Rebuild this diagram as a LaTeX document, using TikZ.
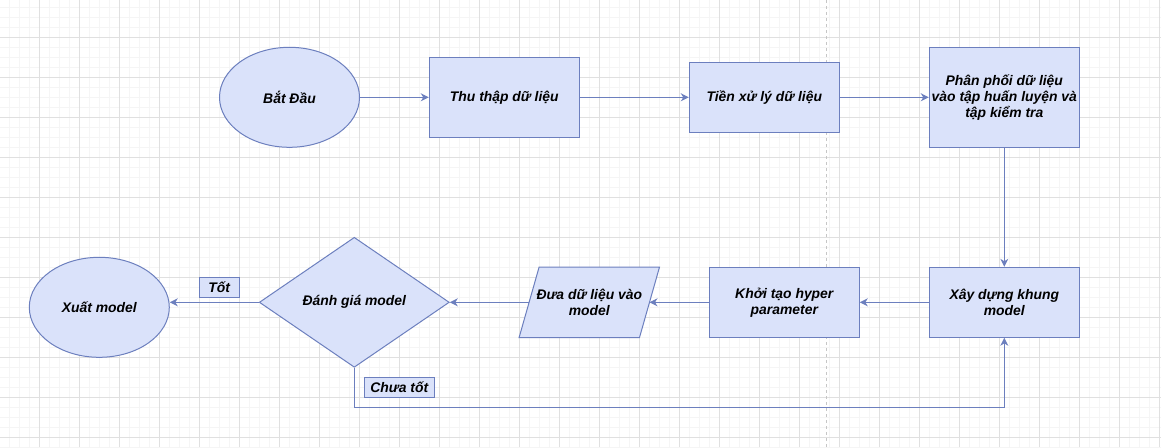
\documentclass[tikz,border=0pt]{standalone}
\usepackage{fontspec}
\setmainfont{Liberation Sans}
\usetikzlibrary{shapes.geometric,arrows.meta}
\definecolor{boxfill}{RGB}{218,226,250}
\definecolor{boxline}{RGB}{108,127,190}
\definecolor{gridminor}{RGB}{245,245,245}
\definecolor{gridmajor}{RGB}{224,224,224}
\tikzset{
  boxtext/.style={font=\fontsize{13.9}{16}\selectfont\bfseries\itshape,align=center,inner sep=0},
  box/.style={boxtext,rectangle,draw=boxline,fill=boxfill,line width=1pt,minimum width=150,minimum height=70},
  oval/.style={boxtext,ellipse,draw=boxline,fill=boxfill,line width=1pt,minimum width=140,minimum height=100},
  decision/.style={boxtext,diamond,aspect=1.46,draw=boxline,fill=boxfill,line width=1pt,minimum width=190,minimum height=130},
  tag/.style={boxtext,rectangle,draw=boxline,fill=boxfill,line width=1pt,minimum height=20},
  arr/.style={draw=boxline,line width=1pt,-{Stealth[length=8pt,width=8pt,inset=2.5pt]}}
}

\begin{document}
\begin{tikzpicture}[x=1pt,y=-1pt]
\useasboundingbox (0,0) rectangle (1161,447);
\fill[white] (0,0) rectangle (1161,447);
\foreach \i in {0,...,115} \draw[gridminor,line width=1pt] (9.3+10*\i,0) -- (9.3+10*\i,447);
\foreach \j in {0,...,44} \draw[gridminor,line width=1pt] (0,7.3+10*\j) -- (1161,7.3+10*\j);
\foreach \i in {0,...,28} \draw[gridmajor,line width=1pt] (39.3+40*\i,0) -- (39.3+40*\i,447);
\foreach \j in {0,...,10} \draw[gridmajor,line width=1pt] (0,37.3+40*\j) -- (1161,37.3+40*\j);
\draw[gray!45,line width=1pt,dash pattern=on 3pt off 3pt] (826.7,0) -- (826.7,447);

\node[oval] (batdau) at (289.5,97.3) {Bắt Đầu};
\node[box,minimum height=80] (thuthap) at (504.3,97.3) {Thu thập dữ liệu};
\node[box] (tienxuly) at (764.3,97.3) {Tiền xử lý dữ liệu};
\node[box,minimum height=100] (phanphoi) at (1004.3,97.3) {Phân phối dữ liệu\\vào tập huấn luyện và\\tập kiểm tra};
\node[box] (xaydung) at (1004.3,302.3) {Xây dựng khung\\model};
\node[box] (khoitao) at (784.3,302.3) {Khởi tạo hyper\\parameter};
\node[boxtext,minimum width=120,minimum height=70] (duavao) at (589.3,302.3) {};
\draw[draw=boxline,fill=boxfill,line width=1pt] ([xshift=-10]duavao.south west) -- ([xshift=10]duavao.north west) -- ([xshift=10]duavao.north east) -- ([xshift=-10]duavao.south east) -- cycle;
\node[boxtext] at (duavao) {Đưa dữ liệu vào\\model};
\node[decision] (danhgia) at (354.3,302.3) {Đánh giá model};
\node[oval] (xuat) at (99.3,307.3) {Xuất model};

\draw[arr] (batdau) -- (thuthap);
\draw[arr] (thuthap) -- (tienxuly);
\draw[arr] (tienxuly) -- (phanphoi);
\draw[arr] (phanphoi) -- (xaydung);
\draw[arr] (xaydung) -- (khoitao);
\draw[arr] (khoitao) -- (duavao.east);
\draw[arr] (duavao.west) -- (danhgia);
\draw[arr] (danhgia.west) -- (danhgia.west -| xuat.east);
\draw[arr] (danhgia.south) -- ++(0,40) -| (xaydung.south);

\node[tag,minimum width=40] (tot) at (219.3,287.3) {Tốt};
\node[tag,minimum width=70] (chuatot) at (399.3,387.3) {Chưa tốt};
\end{tikzpicture}
\end{document}
